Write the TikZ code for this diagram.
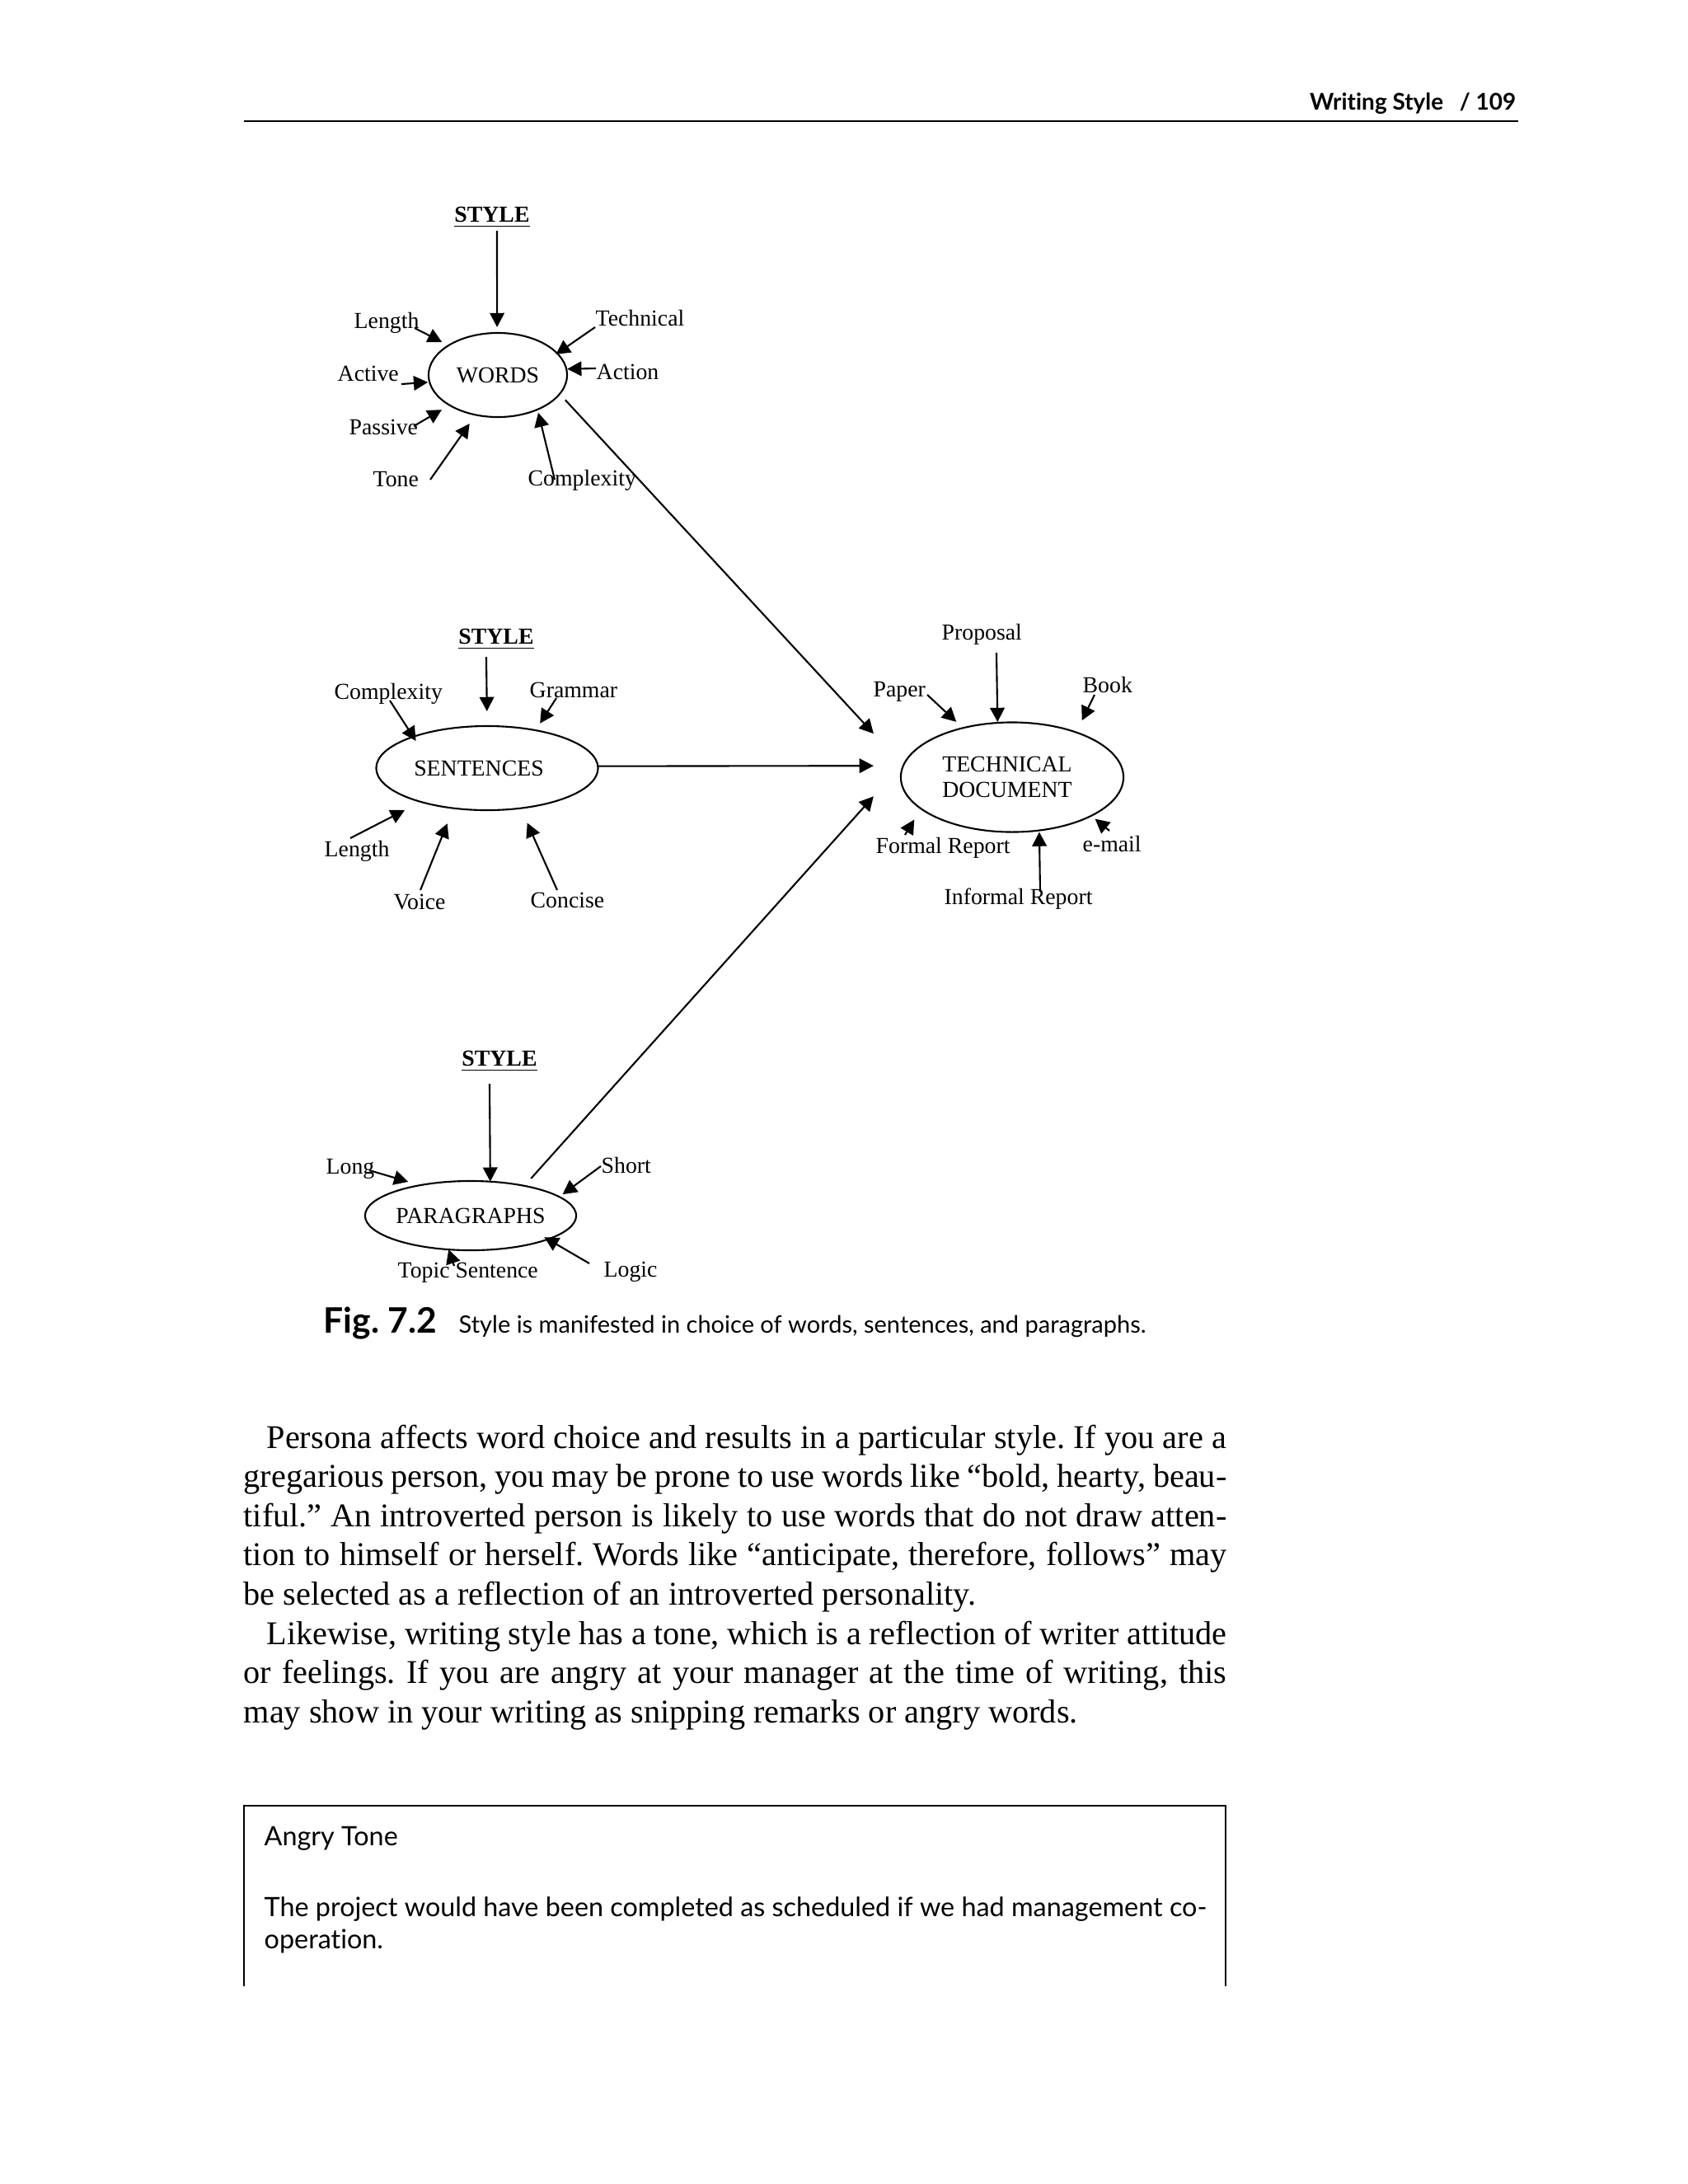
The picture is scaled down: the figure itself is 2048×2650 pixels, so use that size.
\documentclass[tikz,border=0pt]{standalone}
\usepackage{fontspec}
\setmainfont{Liberation Serif}
\newfontfamily\latof[Ligatures={NoCommon,TeX}]{Lato}
\usetikzlibrary{shapes.geometric,arrows.meta}
\frenchspacing
\newcommand\diafont{\fontsize{7.9pt}{8.8pt}\selectfont}
\newcommand\bodyfont{\fontsize{11.45pt}{13.5pt}\selectfont}
\newcommand\hdrfont{\latof\bfseries\fontsize{7.95pt}{9pt}\selectfont}
\newcommand\figfont{\latof\bfseries\fontsize{12.1pt}{14pt}\selectfont}
\newcommand\capfont{\latof\fontsize{8.25pt}{9pt}\selectfont}
\newcommand\boxfont{\latof\fontsize{9.2pt}{10pt}\selectfont}
\tikzset{
  arr/.style={draw, line width=0.6pt, -{Triangle[length=4.9pt,width=5pt]}},
  conn/.style={draw, line width=0.6pt, -{Triangle[length=4.9pt,width=5pt]}},
  lbl/.style={font=\diafont, inner sep=0, anchor=base west},
  sty/.style={font=\diafont\bfseries, inner sep=0, anchor=base},
  oval/.style={ellipse, draw, line width=0.6pt, inner sep=0, outer sep=0, font=\diafont, align=center},
  bl/.style={anchor=base west, inner sep=0, font=\bodyfont},
  bx/.style={anchor=base west, inner sep=0, font=\boxfont}
}
\begin{document}
\begin{tikzpicture}[x=0.01cm,y=-0.01cm]
\fill[white] (0,0) rectangle (2048,2650);
\useasboundingbox (0,0) rectangle (2048,2650);

% header
\node[anchor=base east, inner sep=0, font=\hdrfont] (hdr) at (1840,133) {Writing Style\hspace{0.7em}/ 109};
\draw[line width=0.8pt] (296,147) -- (1842,147);

% ---------- WORDS ----------
\node[oval, minimum width=1.68cm, minimum height=1.02cm] (words) at (604,455) {WORDS};
\node[sty] (st1) at (597,269) {\underline{STYLE}};
\node[lbl] (wlen) at (429,398) {Length};
\node[lbl] (wact) at (409,462) {Active};
\node[lbl] (wpas) at (423,527) {Passive};
\node[lbl] (wton) at (452,590) {Tone};
\node[lbl] (wcom) at (640,589) {Complexity};
\node[lbl] (wtec) at (722,395) {Technical};
\node[lbl] (wactn) at (723,460) {Action};
\coordinate (w0) at (603,280);
\coordinate (w1) at (503,398);
\coordinate (w2) at (487,466);
\coordinate (w3) at (502,517);
\coordinate (w4) at (522,582);
\coordinate (w5) at (673,582);
\coordinate (w6) at (722,397);
\coordinate (w7) at (723,447);
\draw[arr, shorten >=0.07cm] (w0) -- (words.91);
\draw[arr, shorten >=0.09cm] (w1) -- (words.149.5);
\draw[arr, shorten >=0.02cm] (w2) -- (words.186.8);
\draw[arr, shorten >=0.11cm] (w3) -- (words.212.7);
\draw[arr, shorten >=0.13cm] (w4) -- (words.241.9);
\draw[arr, shorten >=0.04cm] (w5) -- (words.319.8);
\draw[arr, shorten >=-0.02cm] (w6) -- (words.20.9);
\draw[arr, shorten >=0.01cm] (w7) -- (words.5.4);

% ---------- SENTENCES ----------
\node[oval, minimum width=2.69cm, minimum height=1.02cm] (sent) at (591,932) {SENTENCES\kern0.2cm};
\node[sty] (st2) at (602,781) {\underline{STYLE}};
\node[lbl] (scom) at (405,848) {Complexity};
\node[lbl] (sgra) at (642,846) {Grammar};
\node[lbl] (slen) at (393,1039) {Length};
\node[lbl] (svoi) at (477,1103) {Voice};
\node[lbl] (scon) at (643,1101) {Concise};
\coordinate (s0) at (590,797);
\coordinate (s1) at (473,850);
\coordinate (s2) at (675,847);
\coordinate (s3) at (425,1017);
\coordinate (s4) at (510,1080);
\coordinate (s5) at (676,1080);
\draw[arr, shorten >=0.18cm] (s0) -- (sent.90.8);
\draw[arr, shorten >=-0.06cm] (s1) -- (sent.157.4);
\draw[arr, shorten >=0.10cm] (s2) -- (sent.38.2);
\draw[arr, shorten >=0.22cm] (s3) -- (sent.207);
\draw[arr, shorten >=0.20cm] (s4) -- (sent.230.1);
\draw[arr, shorten >=0.195cm] (s5) -- (sent.310.7);

% ---------- TECHNICAL DOCUMENT ----------
\node[oval, minimum width=2.70cm, minimum height=1.33cm] (tech) at (1228,943) {TECHNICAL\kern0.12cm\\DOCUMENT\kern0.12cm};
\node[lbl] (tpro) at (1142,776) {Proposal};
\node[lbl] (tpap) at (1059,845) {Paper};
\node[lbl] (tboo) at (1313,840) {Book};
\node[lbl] (tfor) at (1062,1035) {Formal Report};
\node[lbl] (tema) at (1313,1033) {e-mail};
\node[lbl] (tinf) at (1145,1097) {Informal Report};
\coordinate (t0) at (1209,792);
\coordinate (t1) at (1125,843);
\coordinate (t2) at (1328,843);
\coordinate (t3) at (1098,1013);
\coordinate (t4) at (1346,1008);
\coordinate (t5) at (1262,1082);
\draw[arr, shorten >=0.01cm] (t0) -- (tech.105.8);
\draw[arr, shorten >=0.11cm] (t1) -- (tech.135.8);
\draw[arr, shorten >=0.16cm] (t2) -- (tech.35.5);
\draw[arr, shorten >=0.156cm] (t3) -- (tech.199.6);
\draw[arr, shorten >=0.06cm] (t4) -- (tech.334.8);
\draw[arr, shorten >=0.02cm] (t5) -- (tech.297.8);

% ---------- PARAGRAPHS ----------
\node[oval, minimum width=2.52cm, minimum height=0.84cm] (para) at (571,1475) {PARAGRAPHS};
\node[sty] (st3) at (606,1293) {\underline{STYLE}};
\node[lbl] (plon) at (395,1424) {Long};
\node[lbl] (psho) at (729,1423) {Short};
\node[lbl] (plog) at (732,1549) {Logic};
\node[lbl] (ptop) at (482,1550) {Topic Sentence};
\coordinate (p0) at (594,1315);
\coordinate (p1) at (448,1420);
\coordinate (p2) at (729,1415);
\coordinate (p3) at (715,1533);
\coordinate (p4) at (551,1536);
\draw[arr] (p0) -- (para.60.9);
\draw[arr, shorten >=0.15cm] (p1) -- (para.149.2);
\draw[arr, shorten >=0.05cm] (p2) -- (para.12.5);
\draw[arr, shorten >=-0.05cm] (p3) -- (para.343.8);
\draw[arr] (p4) -- (para.237.6);

% ---------- connectors to TECHNICAL DOCUMENT ----------
\draw[conn, shorten <=0.10cm, shorten >=0.53cm] (words.-17.8) -- (tech.174.5);
\draw[conn, shorten >=0.36cm] (sent.1.3) -- (tech.174);
\draw[conn, shorten <=0.12cm, shorten >=0.613cm] (para.29) -- (tech.170);

% caption
\node[anchor=base west, inner sep=0, font=\figfont] (fig) at (392,1617) {Fig. 7.2};
\node[anchor=base west, inner sep=0, font=\capfont] (cap) at (556,1617) {Style is manifested in choice of words, sentences, and paragraphs.};

% body text
\node[bl] (b1) at (323,1757) {\makebox[11.64cm][s]{Persona affects word choice and results in a particular style. If you are a}};
\node[bl] (b2) at (295,1804.6) {\makebox[11.92cm][s]{gregarious person, you may be prone to use words like “bold, hearty, beau-}};
\node[bl] (b3) at (295,1852.2) {\makebox[11.92cm][s]{tiful.” An introverted person is likely to use words that do not draw atten-}};
\node[bl] (b4) at (295,1899.8) {\makebox[11.92cm][s]{tion to himself or herself. Words like “anticipate, therefore, follows” may}};
\node[bl] (b5) at (295,1947.4) {be selected as a reflection of an introverted personality.};
\node[bl] (b6) at (323,1995) {\makebox[11.64cm][s]{Likewise, writing style has a tone, which is a reflection of writer attitude}};
\node[bl] (b7) at (295,2042.6) {\makebox[11.92cm][s]{or feelings. If you are angry at your manager at the time of writing, this}};
\node[bl] (b8) at (295,2090.2) {may show in your writing as snipping remarks or angry words.};

% example box
\draw[line width=0.6pt] (296,2410) -- (296,2191) -- (1487,2191) -- (1487,2410);
\node[bx] (angry) at (320,2239) {Angry Tone};
\node[bx] (ex1) at (320,2325) {The project would have been completed as scheduled if we had management co-};
\node[bx] (ex2) at (320,2364) {operation.};
\end{tikzpicture}
\end{document}
